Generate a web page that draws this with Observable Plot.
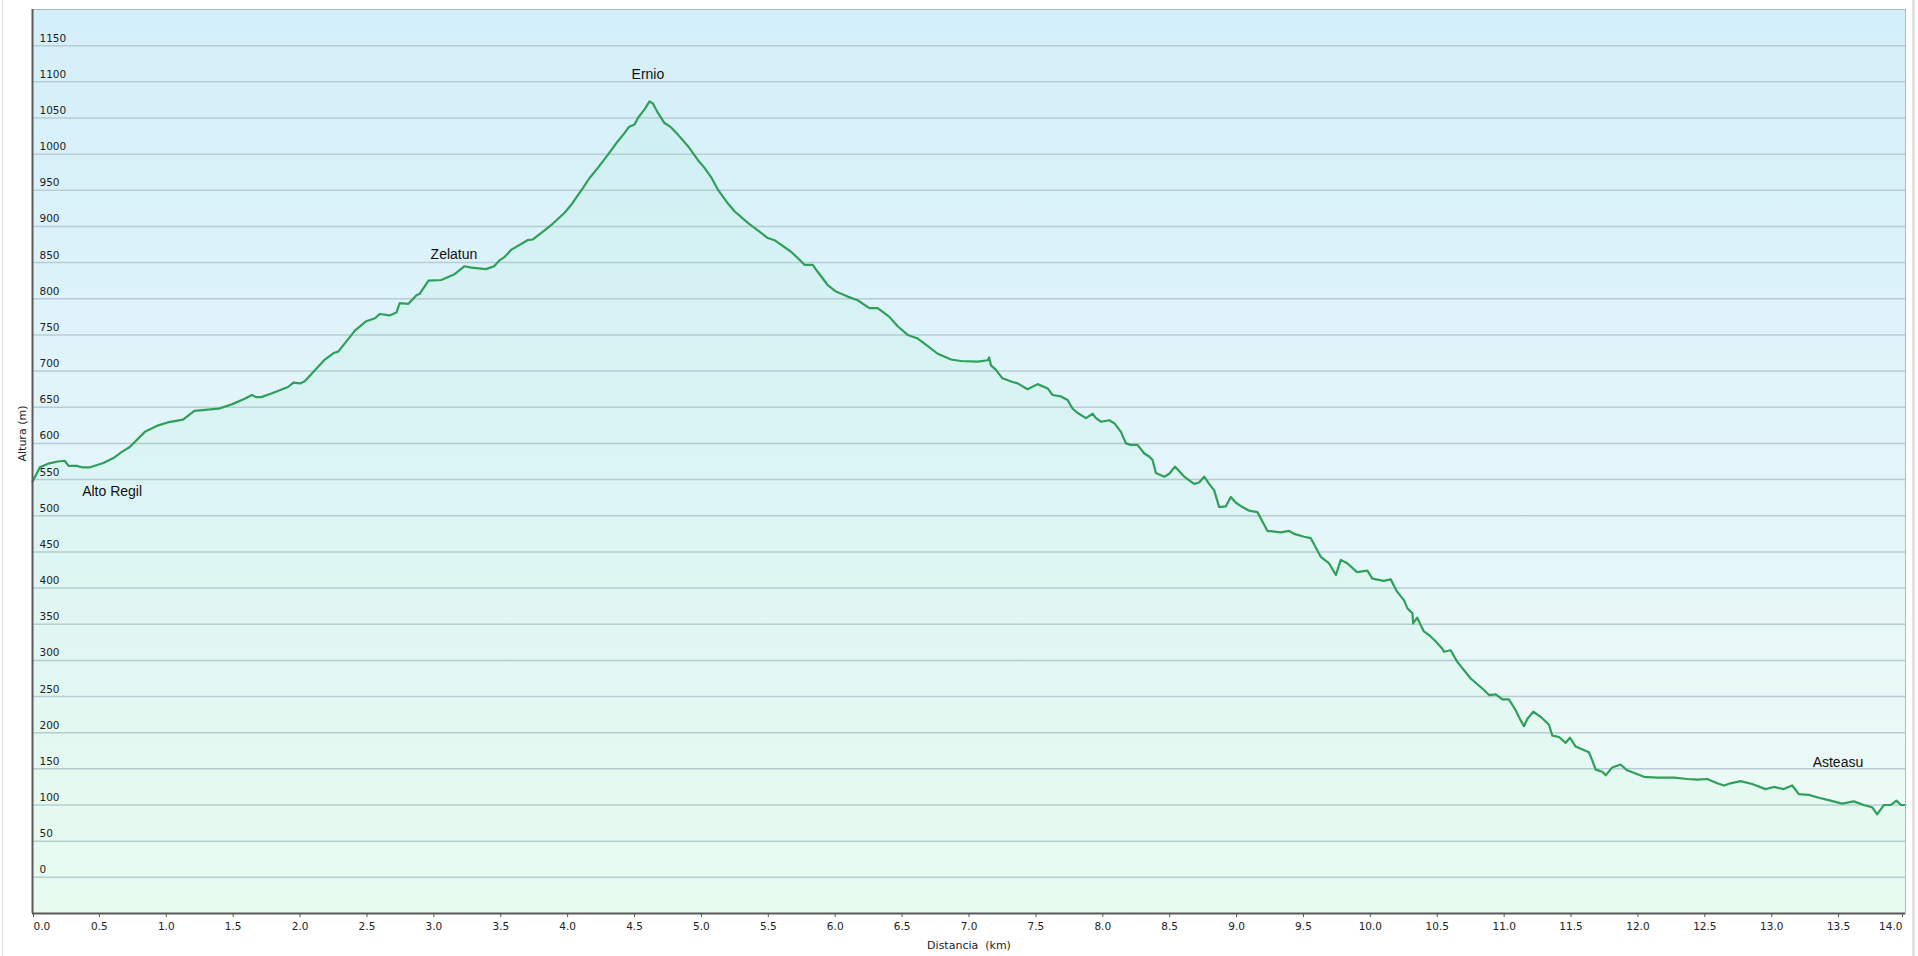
<!DOCTYPE html>
<html><head><meta charset="utf-8">
<script src="https://cdn.jsdelivr.net/npm/d3@7"></script>
<script src="https://cdn.jsdelivr.net/npm/@observablehq/plot@0.6"></script>
<style>
html,body{margin:0;padding:0;background:#fff;overflow:hidden;}
#chart{position:absolute;left:0;top:0;}
.edge{position:absolute;top:0;height:956px;background:#e2e2e2;}
</style></head><body>
<div id="chart"></div>
<div class="edge" style="left:2px;width:1px"></div>
<div class="edge" style="left:1912px;width:3px"></div>
<script>
// Distance along the route (km)
const km = [0.0,0.055,0.117,0.19,0.24,0.27,0.33,0.37,0.43,0.53,0.615,0.665,0.727,0.84,0.94,1.01,1.125,1.21,1.39,1.49,1.59,1.64,1.67,1.71,1.785,1.91,1.95,2.0,2.035,2.135,2.185,2.25,2.285,2.41,2.495,2.56,2.595,2.67,2.72,2.745,2.81,2.87,2.895,2.96,3.055,3.155,3.23,3.28,3.39,3.45,3.49,3.53,3.58,3.70,3.74,3.83,3.89,3.977,4.027,4.064,4.114,4.164,4.226,4.30,4.363,4.425,4.46,4.50,4.525,4.575,4.612,4.637,4.675,4.724,4.774,4.824,4.90,4.973,5.023,5.073,5.123,5.197,5.247,5.347,5.397,5.496,5.546,5.67,5.733,5.77,5.832,5.87,5.944,6.006,6.093,6.168,6.255,6.318,6.405,6.467,6.542,6.617,6.69,6.766,6.866,6.94,7.065,7.14,7.15,7.164,7.2,7.25,7.326,7.364,7.438,7.513,7.588,7.625,7.687,7.737,7.775,7.812,7.874,7.924,7.949,7.986,8.048,8.086,8.136,8.173,8.21,8.26,8.31,8.347,8.372,8.397,8.46,8.497,8.539,8.584,8.609,8.646,8.683,8.72,8.758,8.795,8.833,8.87,8.92,8.957,8.995,9.044,9.094,9.156,9.231,9.33,9.393,9.43,9.505,9.555,9.63,9.692,9.742,9.779,9.83,9.90,9.978,10.015,10.1,10.152,10.2,10.252,10.277,10.315,10.32,10.35,10.4,10.439,10.489,10.538,10.55,10.6,10.65,10.75,10.85,10.887,10.937,10.987,11.036,11.086,11.124,11.148,11.173,11.218,11.273,11.335,11.36,11.41,11.46,11.492,11.534,11.634,11.66,11.684,11.734,11.759,11.808,11.87,11.92,12.045,12.145,12.27,12.37,12.443,12.518,12.593,12.643,12.692,12.767,12.854,12.954,13.016,13.09,13.153,13.203,13.277,13.352,13.44,13.526,13.614,13.688,13.75,13.788,13.838,13.888,13.932,13.967,14.0];
// Altitude (m)
const alt = [547,567,572,575,576,569,569,567,567,573,581,588,595,616,625,629,633,645,648,654,662,667,664,664,669,678,684,683,686,706,716,725,727,756,769,773,779,777,781,794,793,805,807,825,826,834,845,843,841,845,853,858,868,881,882,895,904,919,930,940,953,967,981,999,1015,1029,1038,1041,1050,1062,1073,1070,1057,1043,1037,1027,1011,992,981,968,951,932,921,905,898,884,881,865,854,847,847,837,819,810,803,798,787,787,775,762,750,745,735,724,716,714,713,715,719,708,702,690,685,683,675,682,676,667,665,660,648,642,635,641,635,630,632,628,616,600,598,598,586,582,577,559,554,558,568,559,554,549,544,546,554,544,535,512,513,526,518,512,507,505,479,477,479,475,471,469,443,434,418,439,434,422,424,413,410,412,395,383,372,365,351,359,340,335,326,316,312,314,298,275,259,252,253,246,246,231,217,209,219,229,222,211,196,194,186,193,181,173,161,149,146,141,152,156,148,139,138,138,136,135,136,130,127,130,133,129,122,125,122,127,115,114,110,106,102,105,100,97,87,100,100,106,100,100];

const yTicks = [0,50,100,150,200,250,300,350,400,450,500,550,600,650,700,750,800,850,900,950,1000,1050,1100,1150];
const xTicks = [0.0,0.5,1.0,1.5,2.0,2.5,3.0,3.5,4.0,4.5,5.0,5.5,6.0,6.5,7.0,7.5,8.0,8.5,9.0,9.5,10.0,10.5,11.0,11.5,12.0,12.5,13.0,13.5,14.0];

const waypointNames = ["Alto Regil","Zelatun","Ernio","Asteasu"];
const waypointKm = [0.595,3.15,4.60,13.495];
const waypointAlt = [527,855,1104,153];

const xTitle = "Distancia\u00a0 (km)";
const yTitle = "Altura (m)";

const profile = km.map((k,i) => ({km:k, alt:alt[i]}));
const waypoints = waypointNames.map((n,i) => ({name:n, km:waypointKm[i], alt:waypointAlt[i]}));
const fmt = d => d.toFixed(1);
const xFirst = xTicks[0], xLast = xTicks[xTicks.length-1];
const xInner = xTicks.slice(1, -1);

const axisStyle = {tickSize:4, tickPadding:5, tickFormat:fmt, label:null, stroke:"#555", fill:"#222", fontSize:10.5};

const svg = Plot.plot({
  width:1918, height:956,
  marginLeft:32, marginRight:13, marginTop:9, marginBottom:43,
  style:{fontFamily:"DejaVu Sans, Verdana, sans-serif", fontSize:"10.5px", background:"transparent", color:"#222"},
  x:{domain:[0,14], label:null, axis:null},
  y:{domain:[-50,1200], label:null, axis:null},
  marks:[
    Plot.frame({fill:"url(#bgGrad)", stroke:null}),
    Plot.gridY(yTicks, {stroke:"#b9ccd4", strokeOpacity:1, strokeWidth:1.5}),
    Plot.areaY(profile, {x:"km", y1:-50, y2:"alt", fill:"#5ee89a", fillOpacity:0.06}),
    Plot.line(profile, {x:"km", y:"alt", stroke:"#2fa05a", strokeWidth:2.2}),
    Plot.text(yTicks, {frameAnchor:"left", y:d=>d, text:d=>String(d), textAnchor:"start", dx:7, lineAnchor:"bottom", dy:-4, fill:"#1e1e1e", fontSize:10.5}),
    Plot.frame({stroke:"#aeb9bd", fill:null}),
    Plot.ruleX([0], {stroke:"#5a5a5a", strokeWidth:2}),
    Plot.ruleY([-50], {stroke:"#5a5a5a", strokeWidth:2}),
    Plot.axisX(xInner, {...axisStyle}),
    Plot.axisX([xFirst], {...axisStyle, textAnchor:"start", dx:1}),
    Plot.axisX([xLast], {...axisStyle, textAnchor:"end", dx:-3}),
    Plot.text([xTitle], {frameAnchor:"bottom", text:d=>d, dy:35, fontSize:11, fill:"#222"}),
    Plot.text([yTitle], {frameAnchor:"left", text:d=>d, dx:-10, rotate:-90, fontSize:11, fill:"#222"}),
    Plot.text(waypoints, {x:"km", y:"alt", text:"name", lineAnchor:"bottom", fontFamily:"Liberation Sans, Arial, sans-serif", fontSize:14, fill:"#111"})
  ]
});
const ns = "http://www.w3.org/2000/svg";
const defs = document.createElementNS(ns, "defs");
defs.innerHTML = '<linearGradient id="bgGrad" x1="0" y1="0" x2="0" y2="1"><stop offset="0" stop-color="#d3eff9"/><stop offset="0.5" stop-color="#e3f5fa"/><stop offset="1" stop-color="#f0fcf5"/></linearGradient>';
svg.insertBefore(defs, svg.firstChild);
document.getElementById("chart").appendChild(svg);
</script>
</body></html>
